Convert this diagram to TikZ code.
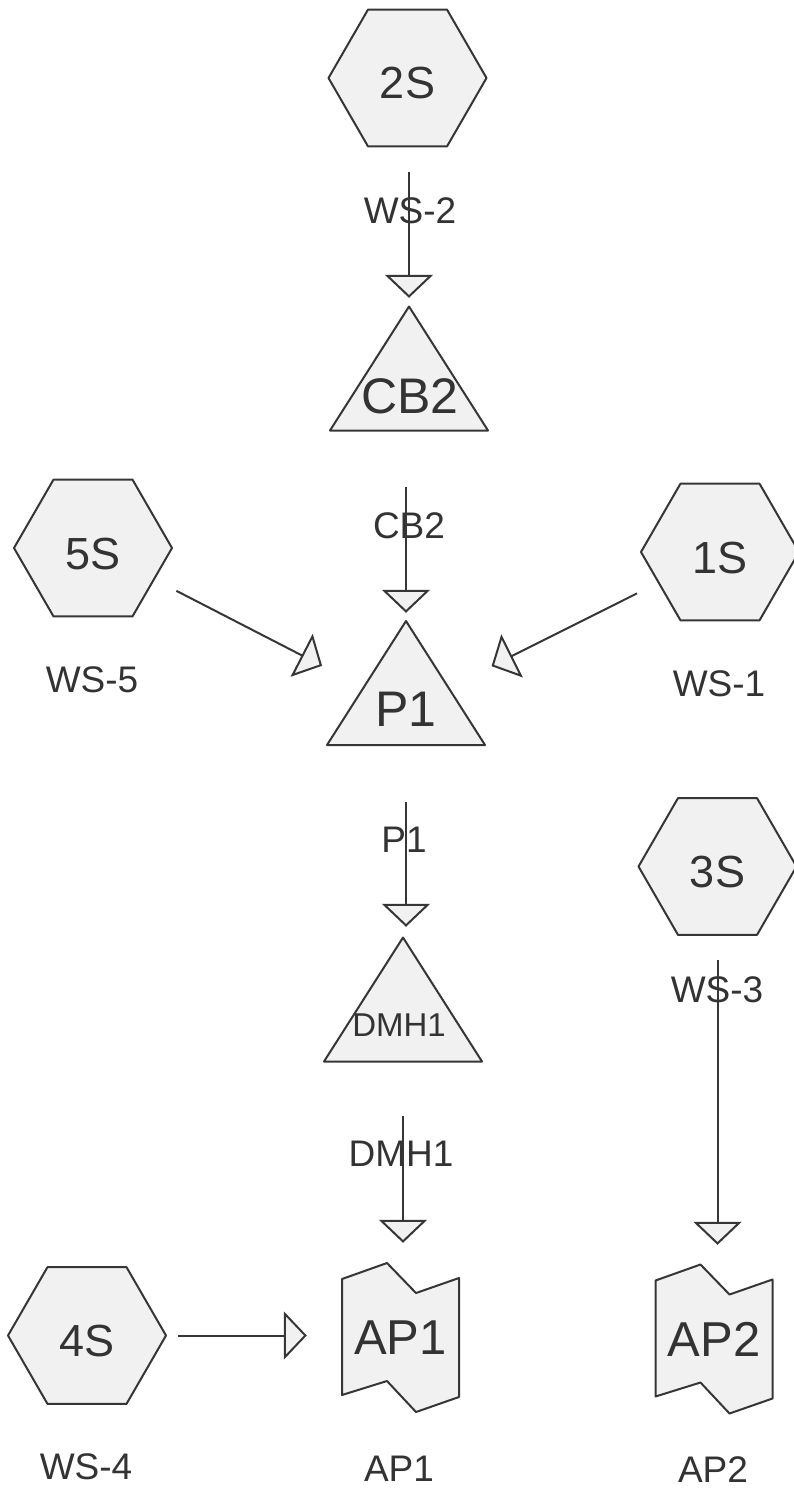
\documentclass[tikz,border=0pt]{standalone}
\usepackage{fontspec}
\setmainfont{Liberation Sans}
\usetikzlibrary{arrows.meta}
\definecolor{ink}{HTML}{363636}
\definecolor{shapefill}{HTML}{F1F1F1}
\definecolor{txt}{HTML}{333333}

% a point given relative to the centre of the node being decorated
\newcommand\ppt[2]{([shift={(#1pt,#2pt)}]path picture bounding box.center)}

\tikzset{
  outline/.style={draw=ink, fill=shapefill, line width=2pt, line join=round},
  % hexagon: regular, circumradius 79pt, drawn inside a slightly larger box
  hexnode/.style={rectangle, inner sep=0pt, minimum width=162pt, minimum height=141pt,
    text=txt, font=\fontsize{45}{45}\selectfont, text height=42pt, text depth=0pt,
    path picture={\path[outline]
      \ppt{-79}{0} -- \ppt{-39.5}{68.4} -- \ppt{39.5}{68.4} -- \ppt{79}{0}
      -- \ppt{39.5}{-68.4} -- \ppt{-39.5}{-68.4} -- cycle;}},
  % isosceles triangle, 158pt wide, 124pt tall
  trinode/.style={rectangle, inner sep=0pt, minimum width=164pt, minimum height=130pt,
    path picture={\path[outline]
      \ppt{0}{62} -- \ppt{79}{-62} -- \ppt{-79}{-62} -- cycle;}},
  % notched sheet shape for the AP nodes
  apnode/.style={rectangle, inner sep=0pt, minimum width=121pt, minimum height=153pt,
    text=txt, font=\fontsize{49}{49}\selectfont,
    path picture={\path[outline]
      \ppt{-58.5}{58.5} -- \ppt{-13.5}{74.5} -- \ppt{15.5}{44.5} -- \ppt{58.5}{59.5}
      -- \ppt{58.5}{-59.5} -- \ppt{15.5}{-74.5} -- \ppt{-13.5}{-43.5} -- \ppt{-58.5}{-57.5} -- cycle;}},
  captext/.style={inner sep=0pt, text=txt, font=\fontsize{50}{50}\selectfont},
  smallcap/.style={inner sep=0pt, text=txt, font=\fontsize{33}{33}\selectfont},
  lbl/.style={inner sep=0pt, text=txt, font=\fontsize{37}{37}\selectfont},
  flow/.style={draw=ink, line width=2pt,
    -{Triangle[length=23pt, width=48pt, fill=shapefill, line join=miter]}}
}

\begin{document}
\begin{tikzpicture}[x=1pt, y=-1pt]
  \useasboundingbox[fill=white] (0,0) rectangle (794,1488);

  % shapes
  \node[hexnode] (s2) at (407.5,78) {2S};
  \node[trinode] (cb2) at (409,368.5) {};
  \node[captext] (cb2t) at (410,396) {CB2};
  \node[hexnode] (s5) at (93,548) {5S};
  \node[hexnode] (s1) at (720,552) {1S};
  \node[trinode] (p1) at (406,683) {};
  \node[captext] (p1t) at (406,709) {P1};
  \node[hexnode] (s3) at (717.5,866.5) {3S};
  \node[trinode] (dmh1) at (403,999.5) {};
  \node[smallcap] (dmh1t) at (399,1025) {DMH1};
  \node[hexnode] (s4) at (87,1335.5) {4S};
  \node[apnode] (ap1) at (400.5,1337.5) {AP1};
  \node[apnode] (ap2) at (714,1339) {AP2};

  % names under the shapes
  \node[lbl] (l-s2) at (410,211) {WS-2};
  \node[lbl] (l-cb2) at (409,526) {CB2};
  \node[lbl] (l-s5) at (92,680) {WS-5};
  \node[lbl] (l-s1) at (719,684) {WS-1};
  \node[lbl] (l-p1) at (404,840) {P1};
  \node[lbl] (l-s3) at (717,990) {WS-3};
  \node[lbl] (l-dmh1) at (401,1154) {DMH1};
  \node[lbl] (l-s4) at (86,1467) {WS-4};
  \node[lbl] (l-ap1) at (399,1469) {AP1};
  \node[lbl] (l-ap2) at (713,1470) {AP2};

  % connectors
  \draw[flow, shorten <=23.5pt, shorten >=5.5pt] (cb2.north |- s2.south) -- (cb2.north);
  \draw[flow, shorten <=53.5pt, shorten >=5pt] (p1.north |- cb2.south) -- (p1.north);
  \draw[flow, shorten <=2.5pt, shorten >=94.4pt] (s5) -- (p1t.center);
  \draw[flow, shorten <=2pt, shorten >=95.7pt] (s1) -- (p1t.center);
  \draw[flow, shorten <=54pt, shorten >=7.5pt] (p1.south) -- (p1.south |- dmh1.north);
  \draw[flow, shorten <=51.5pt, shorten >=18pt] (dmh1.south) -- (dmh1.south |- ap1.north);
  \draw[flow, shorten <=23pt, shorten >=17.5pt] (s3.south) -- (s3.south |- ap2.north);
  \draw[flow, shorten <=10pt, shorten >=33pt] (s4.east) -- (s4.east -| ap1.west);
\end{tikzpicture}
\end{document}
